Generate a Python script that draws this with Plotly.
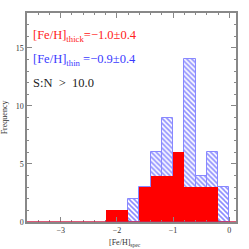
import plotly.graph_objects as go

bin_left = [-2.2, -2.0, -1.8, -1.6, -1.4, -1.2, -1.0, -0.8, -0.6, -0.4, -0.2]
thick_counts = [1, 1, 0, 3, 4, 4, 6, 3, 3, 3, 0]
thin_counts = [0, 0, 2, 3, 6, 9, 4, 14, 4, 6, 3]
bin_width = 0.2
centers = [b + bin_width / 2 for b in bin_left]

fig = go.Figure()
fig.add_trace(go.Bar(
    x=centers, y=thin_counts, width=[bin_width] * len(centers),
    marker=dict(color="white", line=dict(color="#8888ff", width=1),
                pattern=dict(shape="\\", fgcolor="#1515ff", bgcolor="white", size=3.5, solidity=0.45)),
    showlegend=False, hoverinfo="skip"))
fig.add_trace(go.Bar(
    x=centers, y=thick_counts, width=[bin_width] * len(centers),
    marker=dict(color="#ff0000", line=dict(color="#ff0000", width=0)),
    showlegend=False, hoverinfo="skip"))

fig.add_shape(type="line", xref="paper", yref="y", x0=0, x1=1, y0=0, y1=0,
              line=dict(color="#d0204a", width=1.5))

serif = "Liberation Serif"
fig.add_annotation(xref="paper", yref="paper", x=0.02, y=0.89, xanchor="left", yanchor="middle",
                   text="[Fe/H]<sub>thick</sub>=−1.0±0.4", showarrow=False,
                   font=dict(family=serif, size=12.5, color="#ff2020"))
fig.add_annotation(xref="paper", yref="paper", x=0.02, y=0.775, xanchor="left", yanchor="middle",
                   text="[Fe/H]<sub>thin</sub> =−0.9±0.4", showarrow=False,
                   font=dict(family=serif, size=12.5, color="#3a3aff"))
fig.add_annotation(xref="paper", yref="paper", x=0.02, y=0.665, xanchor="left", yanchor="middle",
                   text="S:N  >  10.0", showarrow=False,
                   font=dict(family=serif, size=12.5, color="#222222"))
fig.add_annotation(xref="paper", yref="paper", x=0.47, y=-0.065, xanchor="center", yanchor="top",
                   text="[Fe/H]<sub>spec</sub>", showarrow=False,
                   font=dict(family=serif, size=8, color="#333333"))
fig.add_annotation(xref="paper", yref="paper", x=-0.075, y=0.5, xanchor="right", yanchor="middle",
                   text="Frequency", showarrow=False, textangle=-90,
                   font=dict(family=serif, size=8, color="#333333"))

axis_common = dict(showline=True, linecolor="#888888", linewidth=1.5, mirror="ticks",
                   ticks="inside", tickcolor="#888888", ticklen=5, tickwidth=1,
                   showgrid=False, zeroline=False, automargin=False,
                   tickfont=dict(family=serif, size=8, color="#333333"))
fig.update_xaxes(range=[-3.6, 0.12], tickvals=[-3, -2, -1, 0], ticktext=["−3", "−2", "−1", "0"],
                 minor=dict(dtick=0.2, tick0=0, ticks="inside", ticklen=2.5, tickcolor="#888888"),
                 **axis_common)
fig.update_yaxes(range=[0, 18], tickvals=[0, 5, 10, 15],
                 minor=dict(dtick=1, tick0=0, ticks="inside", ticklen=2.5, tickcolor="#888888"),
                 **axis_common)
fig.update_layout(width=249, height=249, barmode="overlay", bargap=0,
                  margin=dict(l=27, r=13, t=13, b=27),
                  plot_bgcolor="white", paper_bgcolor="white")
fig.write_html("out.html", config={"displayModeBar": False},
               post_script="document.body.style.margin='0';document.body.style.overflow='hidden';")
